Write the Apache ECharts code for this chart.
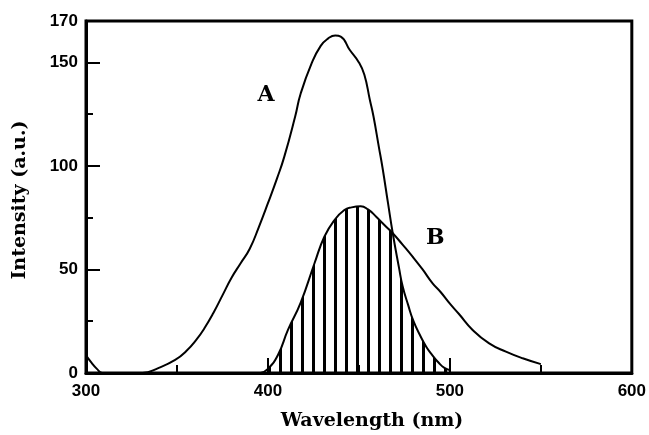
<!DOCTYPE html>
<html>
<head>
<meta charset="utf-8">
<script src="https://cdn.jsdelivr.net/npm/echarts@6/dist/echarts.min.js"></script>
<style>
  html, body { margin: 0; padding: 0; background: #fff; }
  #chart { width: 649px; height: 435px; }
</style>
</head>
<body>
<div id="chart"></div>
<script>
// Emission spectrum A (nm, a.u.)
const wavelengthA = [300, 303, 306, 309, 320, 331, 340, 349, 355, 361, 365, 370, 375, 380, 385, 390, 395, 400, 405, 409, 415, 418, 424, 429, 433, 437, 440, 445, 450, 453, 456, 458, 461, 463, 466, 468.6, 472, 474, 477, 480, 484, 487, 490, 494, 497, 500];
const intensityA  = [8.5, 5, 2, 0, 0, 0, 2.5, 6.3, 10.5, 16.5, 21.5, 29, 37.5, 46, 53, 60, 70.5, 82, 94, 104.5, 124, 135, 149.5, 158, 161.5, 163, 162.5, 156, 150, 144, 132, 124, 109, 99, 82, 67.5, 51, 42, 33, 25, 17.5, 12.7, 9, 4.8, 2.5, 1.4];

// Absorption spectrum B (nm, a.u.)
const wavelengthB = [396, 400, 405.5, 411, 418, 425.6, 431, 436.6, 442, 446, 451, 455, 459.5, 464, 468.6, 474, 479.5, 485, 490.5, 495, 500, 505, 512.5, 521.6, 530.8, 540, 550];
const intensityB  = [0, 2, 8.7, 20.8, 34, 53, 65.8, 73.9, 78.7, 80, 80.5, 79, 75.5, 71.5, 67.5, 62, 56.2, 50, 43.3, 39, 33.5, 28.5, 20.8, 14.3, 10.3, 7.1, 4.3];

// Where the two curves cross; the overlap region is hatched
const crossingWavelength = 468.6;

const xTicks = [300, 400, 500, 600];
const yTicks = [0, 50, 100, 150, 170];

const pairs = (xs, ys) => xs.map((x, i) => [x, ys[i]]);
const seriesA = pairs(wavelengthA, intensityA);
const seriesB = pairs(wavelengthB, intensityB);
// Overlap = B up to the crossing, then A down to 500 nm
const overlap = seriesB.filter(p => p[0] <= crossingWavelength)
  .concat(seriesA.filter(p => p[0] > crossingWavelength && p[0] <= 500));

// Vertical stripe pattern used for the hatched overlap
const tile = document.createElement('canvas');
tile.width = 11; tile.height = 8;
const tctx = tile.getContext('2d');
tctx.fillStyle = '#000';
tctx.fillRect(4, 0, 3, 8);

const tickFont = {
  color: '#000', fontWeight: 'bold', fontSize: 17,
  fontFamily: '"Liberation Sans Narrow", "Liberation Sans", Arial, sans-serif'
};
const titleFont = '"DejaVu Serif", "Liberation Serif", serif';
const curveSmooth = 0.5;

const chart = echarts.init(document.getElementById('chart'), null, { renderer: 'canvas' });

const option = {
  backgroundColor: '#fff',
  animation: false,
  grid: { left: 86, right: 16, top: 21, bottom: 62, show: true, borderColor: '#000', borderWidth: 3, backgroundColor: 'transparent' },
  xAxis: [
    {
      type: 'value', min: 300, max: 600, interval: 100, position: 'bottom',
      axisLine: { show: true, onZero: false, lineStyle: { color: '#000', width: 3 } },
      axisTick: { show: true, inside: true, length: 15, lineStyle: { color: '#000', width: 2 } },
      axisLabel: Object.assign({ margin: 10, formatter: v => xTicks.includes(v) ? String(v) : '' }, tickFont),
      splitLine: { show: false }
    },
    {
      type: 'value', min: 300, max: 600, interval: 50, position: 'bottom', offset: 0,
      axisLine: { show: false, onZero: false },
      axisTick: { show: true, inside: true, length: 8, lineStyle: { color: '#000', width: 2 } },
      axisLabel: { show: false },
      splitLine: { show: false }
    }
  ],
  yAxis: [
    {
      type: 'value', min: 0, max: 170, interval: 50, position: 'left',
      axisLine: { show: true, onZero: false, lineStyle: { color: '#000', width: 3 } },
      axisTick: { show: true, inside: true, length: 14, lineStyle: { color: '#000', width: 2 } },
      axisLabel: Object.assign({ margin: 8, formatter: v => yTicks.includes(v) ? String(v) : '' }, tickFont),
      splitLine: { show: false }
    },
    {
      type: 'value', min: 0, max: 170, interval: 25, position: 'left', offset: 0,
      axisLine: { show: false, onZero: false },
      axisTick: { show: true, inside: true, length: 7, lineStyle: { color: '#000', width: 2 } },
      axisLabel: { show: false },
      splitLine: { show: false }
    }
  ],
  series: [
    {
      name: 'overlap', type: 'line', data: overlap, xAxisIndex: 0, yAxisIndex: 0,
      smooth: curveSmooth, showSymbol: false, silent: true,
      lineStyle: { width: 0 },
      areaStyle: { origin: 'start', color: { image: tile, repeat: 'repeat' }, opacity: 1 },
      z: 1
    },
    {
      name: 'A', type: 'line', data: seriesA, xAxisIndex: 0, yAxisIndex: 0,
      smooth: curveSmooth, showSymbol: false,
      lineStyle: { color: '#000', width: 2 }, z: 3
    },
    {
      name: 'B', type: 'line', data: seriesB, xAxisIndex: 0, yAxisIndex: 0,
      smooth: curveSmooth, showSymbol: false,
      lineStyle: { color: '#000', width: 2 }, z: 3
    }
  ]
};
chart.setOption(option);

// Curve labels and axis titles
const posA = chart.convertToPixel({ xAxisIndex: 0, yAxisIndex: 0 }, [399, 134]);
const posB = chart.convertToPixel({ xAxisIndex: 0, yAxisIndex: 0 }, [492, 65]);
chart.setOption({
  graphic: [
    { type: 'text', x: posA[0], y: posA[1], style: { text: 'A', font: 'bold 22px ' + titleFont, fill: '#000', textAlign: 'center', textVerticalAlign: 'middle' } },
    { type: 'text', x: posB[0], y: posB[1], style: { text: 'B', font: 'bold 22px ' + titleFont, fill: '#000', textAlign: 'center', textVerticalAlign: 'middle' } },
    { type: 'text', x: 372, y: 421, style: { text: 'Wavelength (nm)', font: 'bold 19px ' + titleFont, fill: '#000', textAlign: 'center', textVerticalAlign: 'middle' } },
    { type: 'text', x: 20, y: 200, rotation: Math.PI / 2, style: { text: 'Intensity (a.u.)', font: 'bold 19px ' + titleFont, fill: '#000', textAlign: 'center', textVerticalAlign: 'middle' } }
  ]
});
</script>
</body>
</html>
